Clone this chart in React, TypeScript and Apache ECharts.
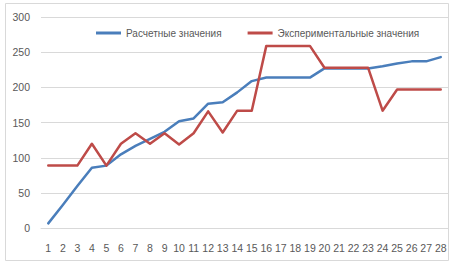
import React, { useEffect, useRef } from "react";
import * as echarts from "echarts";

const categories: string[] = Array.from({ length: 28 }, (_, i) => String(i + 1));
const calculated: number[] = [7, 33, 60, 86, 89, 105, 117, 127, 137, 152, 156, 177, 179, 193, 209, 214, 214, 214, 214, 227, 227, 227, 227, 230, 234, 237, 237, 243];
const experimental: number[] = [89, 89, 89, 120, 89, 120, 135, 120, 135, 119, 135, 166, 136, 167, 167, 259, 259, 259, 259, 228, 228, 228, 228, 167, 197, 197, 197, 197];
const seriesNames: string[] = ["Расчетные значения", "Экспериментальные значения"];

const FONT = "Liberation Sans";

export default function App() {
  const ref = useRef<HTMLDivElement>(null);
  useEffect(() => {
    if (!ref.current) return;
    const chart = echarts.init(ref.current, undefined, { renderer: "svg" });
    chart.setOption({
      animation: false,
      backgroundColor: "#ffffff",
      graphic: [
        {
          type: "rect",
          shape: { x: 5.5, y: 3.5, width: 443, height: 257 },
          style: { fill: "#ffffff", stroke: "#d9d9d9", lineWidth: 1 },
          z: -10,
        },
      ],
      grid: { left: 41, right: 16, top: 17, bottom: 37.7 },
      legend: {
        data: seriesNames,
        left: 91,
        top: 23,
        itemWidth: 25,
        itemHeight: 3,
        itemGap: 26,
        icon: "rect",
        textStyle: { fontFamily: FONT, fontSize: 10, color: "#595959" },
      },
      xAxis: {
        type: "category",
        data: categories,
        boundaryGap: true,
        axisLine: { show: true, lineStyle: { color: "#d9d9d9", width: 1 } },
        axisTick: { show: false },
        axisLabel: { interval: 0, fontFamily: FONT, fontSize: 10.5, color: "#595959", margin: 14 },
      },
      yAxis: {
        type: "value",
        min: 0,
        max: 300,
        interval: 50,
        axisLine: { show: false },
        axisTick: { show: false },
        splitLine: { lineStyle: { color: "#d9d9d9", width: 1 } },
        axisLabel: { fontFamily: FONT, fontSize: 10.5, color: "#595959", margin: 11 },
      },
      series: [
        {
          name: seriesNames[0],
          type: "line",
          data: calculated,
          symbol: "none",
          itemStyle: { color: "#4a7ebb" },
          lineStyle: { color: "#4a7ebb", width: 2.5, cap: "round", join: "round" },
          z: 2,
        },
        {
          name: seriesNames[1],
          type: "line",
          data: experimental,
          symbol: "none",
          itemStyle: { color: "#be4b48" },
          lineStyle: { color: "#be4b48", width: 2.5, cap: "round", join: "round" },
          z: 3,
        },
      ],
    });
    return () => chart.dispose();
  }, []);
  return (
    <div
      ref={ref}
      style={{ position: "fixed", left: 0, top: 0, width: 464, height: 266 }}
    />
  );
}
